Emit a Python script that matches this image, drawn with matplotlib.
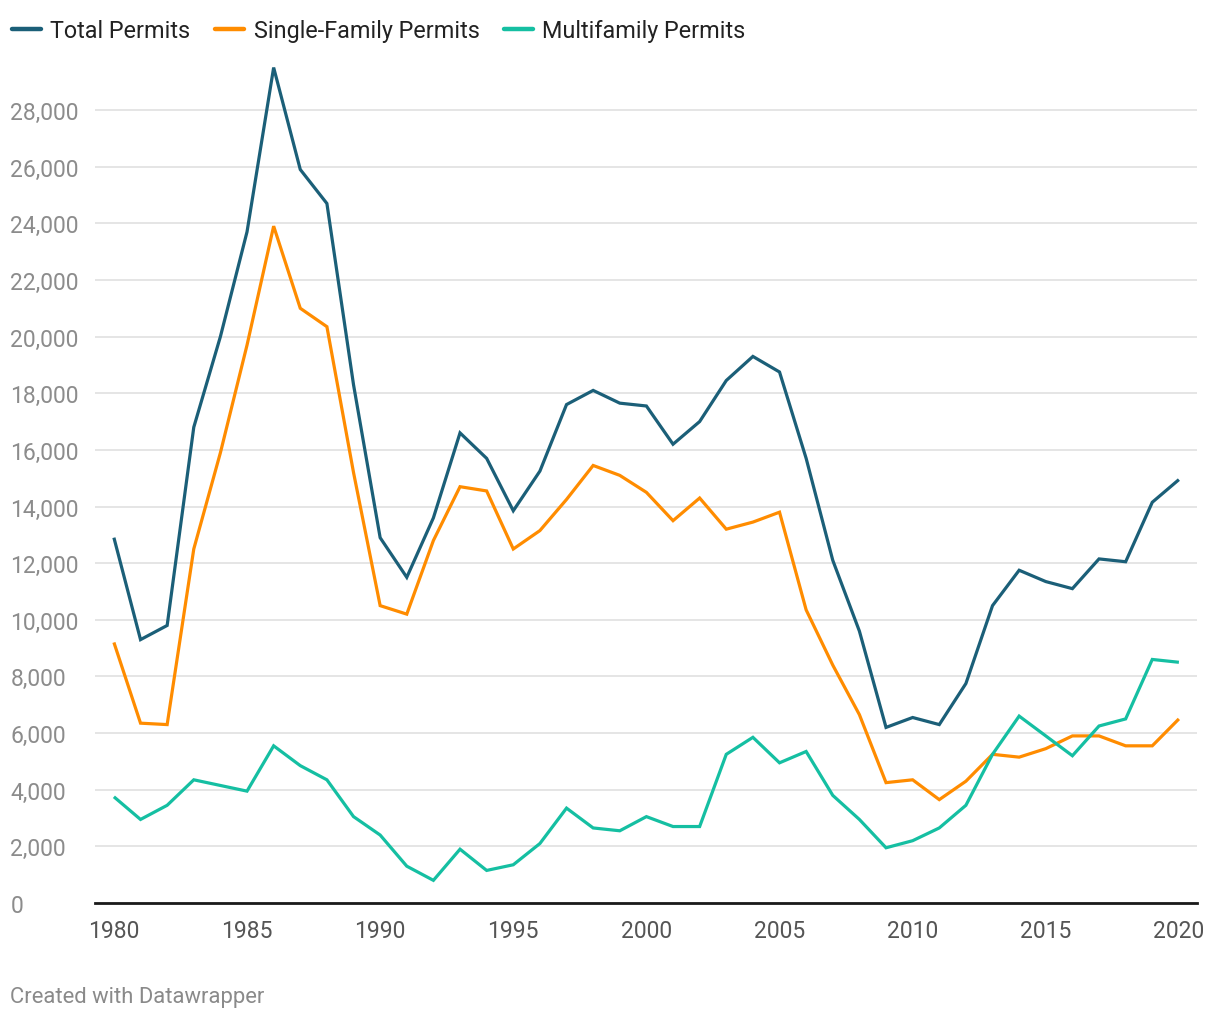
import matplotlib
matplotlib.use("Agg")
import matplotlib.pyplot as plt

plt.rcParams['font.family'] = ['Roboto', 'DejaVu Sans']

years = list(range(1980, 2021))
total = [12900, 9300, 9800, 16800, 20000, 23700, 29500, 25900, 24700, 18300,
         12900, 11500, 13600, 16600, 15700, 13850, 15250, 17600, 18100, 17650,
         17550, 16200, 17000, 18450, 19300, 18750, 15700, 12100, 9600, 6200,
         6550, 6300, 7750, 10500, 11750, 11350, 11100, 12150, 12050, 14150,
         14950]
single = [9200, 6350, 6300, 12500, 15900, 19700, 23900, 21000, 20350, 15200,
          10500, 10200, 12800, 14700, 14550, 12500, 13150, 14250, 15450, 15100,
          14500, 13500, 14300, 13200, 13450, 13800, 10350, 8400, 6650, 4250,
          4350, 3650, 4300, 5250, 5150, 5450, 5900, 5900, 5550, 5550,
          6500]
multi = [3750, 2950, 3450, 4350, 4150, 3950, 5550, 4850, 4350, 3050,
         2400, 1300, 800, 1900, 1150, 1350, 2100, 3350, 2650, 2550,
         3050, 2700, 2700, 5250, 5850, 4950, 5350, 3800, 2950, 1950,
         2200, 2650, 3450, 5250, 6600, 5900, 5200, 6250, 6500, 8600,
         8500]
series_names = ["Total Permits", "Single-Family Permits", "Multifamily Permits"]
colors = ["#1b5f78", "#ff8c00", "#15bfa2"]
yticks = list(range(0, 30000, 2000))
xticks = [1980, 1985, 1990, 1995, 2000, 2005, 2010, 2015, 2020]

W, H = 1220, 1020
fig = plt.figure(figsize=(W / 100, H / 100), dpi=100)
left, right, top, bottom = 95, 1197, 54.4, 904
ax = fig.add_axes([left / W, 1 - bottom / H, (right - left) / W, (bottom - top) / H])

for vals, name, c in zip([total, single, multi], series_names, colors):
    ax.plot(years, vals, color=c, lw=2.3, label=name, solid_joinstyle='miter',
            solid_capstyle='butt', zorder=3)

ax.set_xlim(1979.29, 2020.68)
ax.set_ylim(0, 30000)
ax.set_yticks(yticks)
ax.set_yticklabels([f"{v:,}" for v in yticks])
ax.set_xticks(xticks)
ax.set_xticklabels([str(x) for x in xticks])
ax.grid(axis='y', color='#e3e3e3', lw=1.3, zorder=0)
ax.grid(axis='x', visible=False)
for s in ['top', 'right', 'left']:
    ax.spines[s].set_visible(False)
ax.spines['bottom'].set_color('#1a1a1a')
ax.spines['bottom'].set_linewidth(2.0)
ax.spines['bottom'].set_zorder(4)
ax.tick_params(axis='y', length=0, pad=61, labelsize=16.5, labelcolor='#8c8c8c')
for lab in ax.get_yticklabels():
    lab.set_horizontalalignment('left')
ax.tick_params(axis='x', length=0, pad=11.5, labelsize=16.5, labelcolor='#555555')

leg = fig.legend(loc='upper left', bbox_to_anchor=(5 / W, 1 - 13 / H), ncol=3,
                 frameon=False, fontsize=16.8, handlelength=1.25,
                 handletextpad=0.4, columnspacing=1.05, borderaxespad=0,
                 borderpad=0.3)
for h in leg.get_lines():
    h.set_linewidth(3.2)
    h.set_solid_capstyle('round')
for t in leg.get_texts():
    t.set_color('#222222')

fig.text(10 / W, 1 - 998 / H, "Created with Datawrapper", fontsize=15.8,
         color='#8a8a8a', ha='left', va='center')

fig.savefig("out.png", dpi=100, facecolor='white')
